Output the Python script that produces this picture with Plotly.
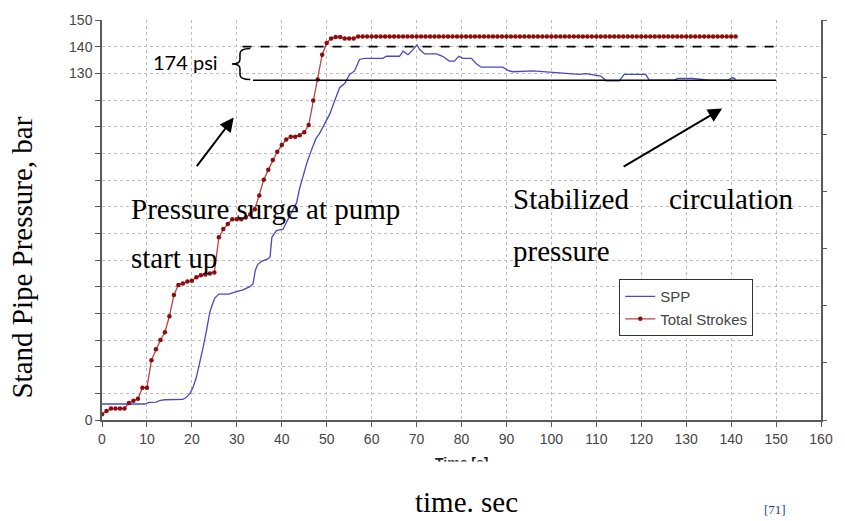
import plotly.graph_objects as go

# ---------------- data ----------------
strokes_t = list(range(0, 142))
strokes_v = [2.2, 3.4, 4.3, 4.3, 4.3, 4.3, 6.4, 7.2, 8.0, 12.1,
             12.1, 22.4, 26.5, 30.0, 32.9, 38.9, 46.9, 50.6, 51.2, 51.9,
             52.2, 53.5, 54.3, 54.6, 54.9, 55.3, 68.5, 71.6, 73.5, 75.3,
             75.3, 75.3, 75.9, 77.2, 79.0, 84.2, 90.1, 93.8, 97.5, 100.6,
             103.1, 105.2, 106.2, 106.2, 106.8, 107.9, 110.6, 119.8, 127.7, 137.0,
             141.4, 143.1, 143.6, 143.6, 143.1, 143.1, 143.1, 143.8, 143.8, 143.8,
             143.8, 143.8, 143.8, 143.8, 143.8, 143.8, 143.8, 143.8, 143.8, 143.8,
             143.8, 143.8, 143.8, 143.8, 143.8, 143.8, 143.8, 143.8, 143.8, 143.8,
             143.8, 143.8, 143.8, 143.8, 143.8, 143.8, 143.8, 143.8, 143.8, 143.8,
             143.8, 143.8, 143.8, 143.8, 143.8, 143.8, 143.8, 143.8, 143.8, 143.8,
             143.8, 143.8, 143.8, 143.8, 143.8, 143.8, 143.8, 143.8, 143.8, 143.8,
             143.8, 143.8, 143.8, 143.8, 143.8, 143.8, 143.8, 143.8, 143.8, 143.8,
             143.8, 143.8, 143.8, 143.8, 143.8, 143.8, 143.8, 143.8, 143.8, 143.8,
             143.8, 143.8, 143.8, 143.8, 143.8, 143.8, 143.8, 143.8, 143.8, 143.8,
             143.8, 143.8]

spp_t = [0, 9.5, 10.5, 12, 13, 14, 18, 18.8, 19.6, 20.3,
         21, 21.8, 22.5, 23.3, 24, 24.6, 25.1, 26, 28.2, 29.9,
         31.4, 32.9, 33.6, 34.1, 34.6, 35.5, 37.0, 37.4, 37.8, 38.8,
         40.3, 41.0, 41.8, 43.3, 44.0, 44.7, 45.6, 46.6, 47.6, 48.4,
         49.6, 50.7, 51.5, 52.3, 52.9, 54.0, 55.1, 56.2, 56.8, 57.3,
         58.4, 62.5, 63.3, 66.2, 67.0, 68.1, 69.2, 70.1, 70.7, 71.8,
         74.4, 75.8, 77.3, 78.4, 79.4, 80.3, 82.2, 83.3, 84.4, 89.2,
         90.3, 91.4, 95.9, 101.8, 106.2, 107.7, 109.2, 111.0, 112.2, 115.1,
         116.2, 121.0, 121.8, 127.3, 128.1, 131.4, 135.1, 139.2, 140.3, 141.0]
spp_v = [6.0, 6.0, 6.6, 6.7, 7.4, 7.6, 7.7, 8.5, 10.0, 12.5,
         16.0, 21.5, 27.2, 34.0, 40.5, 43.5, 45.7, 47.2, 47.2, 48.1,
         48.8, 50.0, 51.0, 56.0, 58.2, 59.5, 60.5, 61.2, 68.5, 71.0,
         71.6, 74.0, 76.5, 81.5, 87.0, 91.4, 96.5, 101.2, 105.5, 107.4,
         111.1, 114.8, 118.5, 122.5, 124.7, 126.2, 129.6, 130.9, 133.5, 135.2,
         135.6, 135.6, 136.4, 136.4, 138.3, 137.0, 138.9, 140.7, 138.9, 137.3,
         137.3, 136.4, 134.6, 134.6, 136.4, 135.6, 135.6, 133.6, 132.3, 132.3,
         131.1, 130.6, 130.9, 130.3, 129.6, 129.9, 129.4, 129.0, 127.2, 127.2,
         129.6, 129.6, 127.4, 127.4, 128.1, 128.1, 127.4, 127.4, 128.4, 127.8]

x_ticks = [0, 10, 20, 30, 40, 50, 60, 70, 80, 90, 100, 110, 120, 130, 140, 150, 160]
y_ticks = [0, 10, 20, 30, 40, 50, 60, 70, 80, 90, 100, 110, 120, 130, 140, 150]
y_ticktext = ["0", "", "", "", "", "", "", "", "", "", "", "", "", "130", "140", "150"]

# reference levels (bar)
peak_level = 140
stable_level = 127.4

# ---------------- figure ----------------
W, H = 845, 521
ML, MR, MT, MB = 102, 23, 14, 101
PW, PH = W - ML - MR, H - MT - MB


def px(xp):
    return (xp - ML) / PW


def py(yp):
    return (H - MB - yp) / PH


AXC = "#5a5a5a"
GRID = "#bdbdbd"
TICKFONT = dict(family="Liberation Sans, Arial, sans-serif", size=14, color="#454545")
SERIF = "Liberation Serif, Times New Roman, serif"

fig = go.Figure()
fig.add_trace(go.Scatter(x=spp_t, y=spp_v, mode="lines", name="SPP",
                         line=dict(color="#4848c8", width=1.3)))
fig.add_trace(go.Scatter(x=strokes_t, y=strokes_v, mode="lines+markers", name="Total Strokes",
                         line=dict(color="#b94444", width=1.3),
                         marker=dict(color="#8e0c0c", size=4.5)))
fig.add_trace(go.Scatter(x=[None], y=[None], yaxis="y2", showlegend=False, hoverinfo="skip"))

# reference lines and brace
fig.add_shape(type="line", x0=31.3, x1=150, y0=peak_level, y1=peak_level,
              line=dict(color="black", width=1.6, dash="dash"))
fig.add_shape(type="line", x0=33.6, x1=150, y0=stable_level, y1=stable_level,
              line=dict(color="black", width=1.4))
fig.add_shape(type="path",
              path="M 33.0,139.3 Q 30.7,139.3 30.7,137.3 L 30.7,135.2 Q 30.7,133.5 28.9,133.5 "
                   "Q 30.7,133.5 30.7,131.8 L 30.7,129.6 Q 30.7,127.7 33.0,127.7",
              line=dict(color="black", width=1.5))

ann = []
# arrows
ann.append(dict(x=29.3, y=113.4, xref="x", yref="y", ax=-38, ay=50, text="", showarrow=True,
                arrowhead=2, arrowsize=1.4, arrowwidth=2, arrowcolor="black", standoff=0))
ann.append(dict(x=138.0, y=116.8, xref="x", yref="y", ax=-100, ay=59, text="", showarrow=True,
                arrowhead=2, arrowsize=1.4, arrowwidth=2, arrowcolor="black", standoff=0))
# serif texts
ann.append(dict(x=px(129), y=py(206), xref="paper", yref="paper", text="Pressure surge at pump",
                showarrow=False, xanchor="left", yanchor="middle", font=dict(family=SERIF, size=29, color="black")))
ann.append(dict(x=px(129), y=py(256), xref="paper", yref="paper", text="start up",
                showarrow=False, xanchor="left", yanchor="middle", font=dict(family=SERIF, size=29, color="black")))
ann.append(dict(x=px(512), y=py(196), xref="paper", yref="paper", text="Stabilized",
                showarrow=False, xanchor="left", yanchor="middle", font=dict(family=SERIF, size=29, color="black")))
ann.append(dict(x=px(797), y=py(196), xref="paper", yref="paper", text="circulation",
                showarrow=False, xanchor="right", yanchor="middle", font=dict(family=SERIF, size=29, color="black")))
ann.append(dict(x=px(512), y=py(248), xref="paper", yref="paper", text="pressure",
                showarrow=False, xanchor="left", yanchor="middle", font=dict(family=SERIF, size=29, color="black")))
ann.append(dict(x=px(467), y=py(503), xref="paper", yref="paper", text="time. sec",
                showarrow=False, xanchor="center", yanchor="middle", font=dict(family=SERIF, size=29, color="black")))
ann.append(dict(x=px(22), y=py(255), xref="paper", yref="paper", text="Stand Pipe Pressure, bar", textangle=-90,
                showarrow=False, xanchor="center", yanchor="middle", font=dict(family=SERIF, size=29, color="black")))
ann.append(dict(x=px(186), y=py(57), xref="paper", yref="paper", text="174 psi",
                showarrow=False, xanchor="center", yanchor="middle",
                font=dict(family="Lato, Noto Sans, sans-serif", size=20, color="black")))
# cut-off axis title and its cover
ann.append(dict(x=px(462), y=py(464), xref="paper", yref="paper", text="<b>Time [s]</b>",
                showarrow=False, xanchor="center", yanchor="middle",
                font=dict(family="Liberation Sans, Arial, sans-serif", size=14, color="#222")))
ann.append(dict(x=px(462), y=py(462), xref="paper", yref="paper", text=" ", width=120, height=20,
                bgcolor="white", showarrow=False, xanchor="center", yanchor="top"))
ann.append(dict(x=px(776), y=py(520), xref="paper", yref="paper", text="[71]",
                showarrow=False, xanchor="center", yanchor="bottom",
                font=dict(family=SERIF, size=13, color="#1f3d8a")))

fig.update_layout(
    width=W, height=H,
    margin=dict(l=ML, r=MR, t=MT, b=MB),
    plot_bgcolor="white", paper_bgcolor="white",
    showlegend=True,
    legend=dict(x=px(620), y=py(277), xanchor="left", yanchor="top",
                bgcolor="white", bordercolor="#333", borderwidth=1,
                font=dict(family="Liberation Sans, Arial, sans-serif", size=15, color="#454545"),
                tracegroupgap=0, itemwidth=30),
    xaxis=dict(range=[0, 160], tickvals=x_ticks, ticks="outside", ticklen=5, tickcolor=AXC,
               showline=True, linecolor=AXC, linewidth=1.5, showgrid=True, gridcolor=GRID,
               griddash="dot", gridwidth=1, zeroline=False, tickfont=TICKFONT),
    yaxis=dict(range=[0, 150], tickvals=y_ticks, ticktext=y_ticktext, ticks="outside", ticklen=5,
               tickcolor=AXC, showline=True, linecolor=AXC, linewidth=1.5, showgrid=True,
               gridcolor=GRID, griddash="dot", gridwidth=1, zeroline=False, tickfont=TICKFONT),
    yaxis2=dict(range=[0, 70], dtick=10, overlaying="y", side="right", showticklabels=False,
                ticks="outside", ticklen=4, tickcolor=AXC, showline=True, linecolor=AXC,
                linewidth=1.5, showgrid=False, zeroline=False),
    annotations=ann,
)

fig.write_html("out.html")
